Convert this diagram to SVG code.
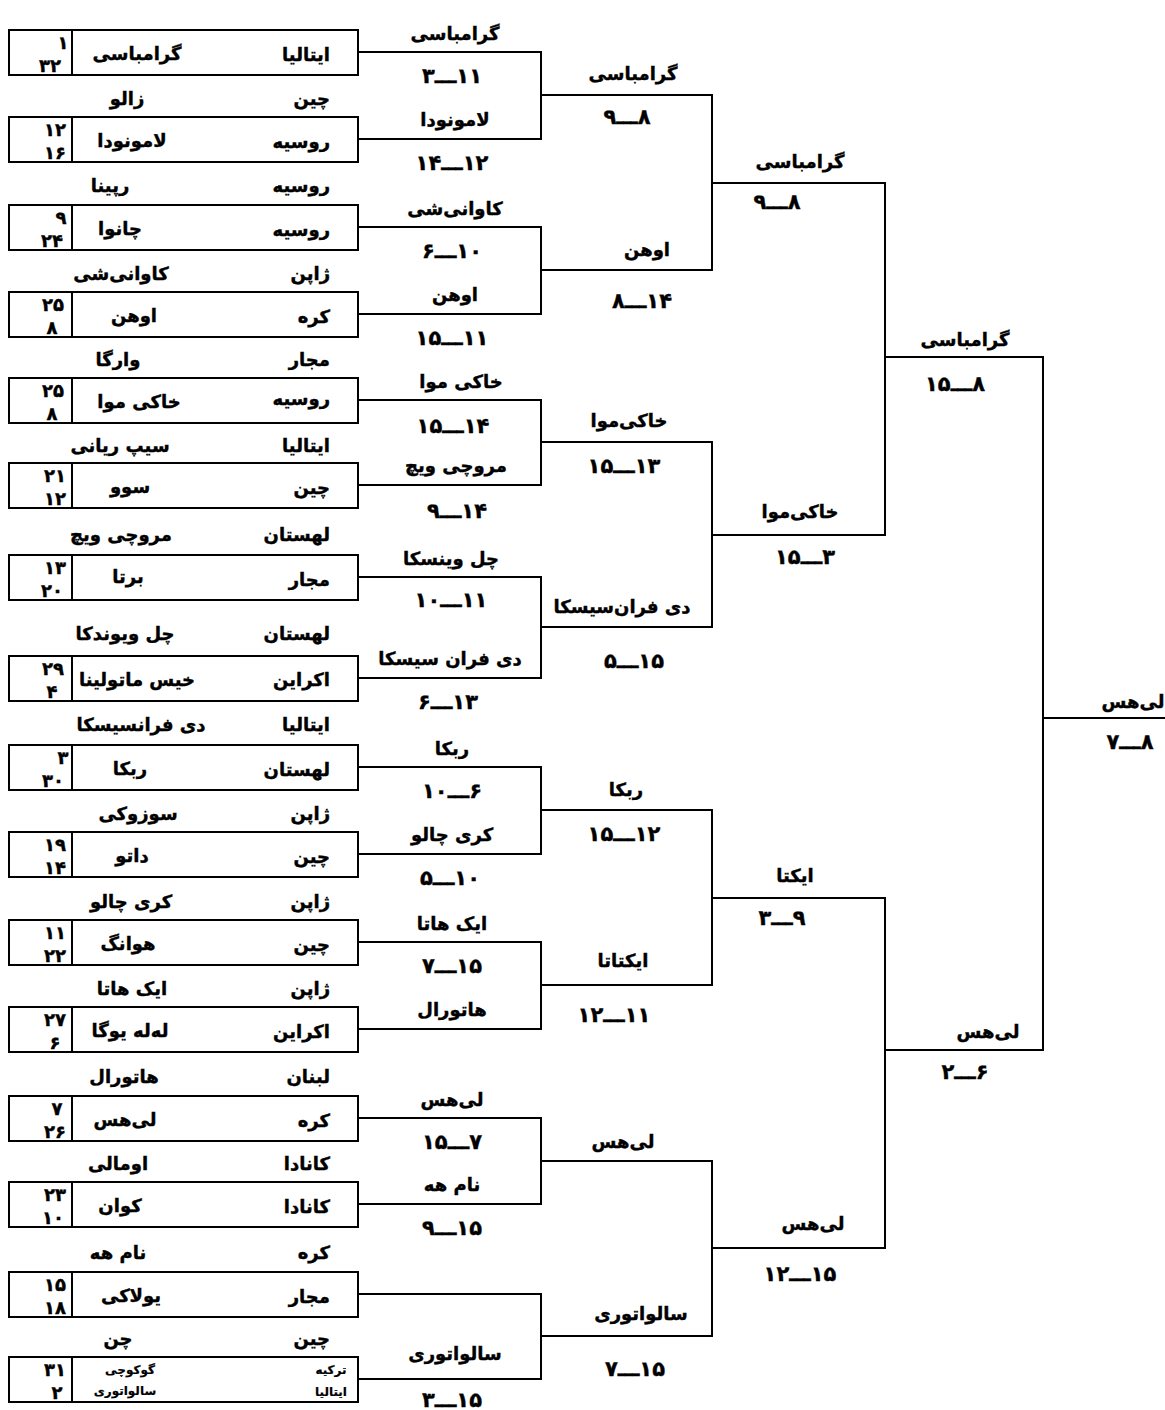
<svg xmlns="http://www.w3.org/2000/svg" width="1165" height="1410" viewBox="0 0 1165 1410">
<style>
text{font-family:"DejaVu Sans","Noto Sans",sans-serif;font-weight:bold;font-size:18px;fill:#000;stroke:#000;stroke-width:0.4;text-anchor:middle}
.r{text-anchor:end}
.n{font-size:18px}
.sm{font-size:12px;stroke-width:0.2}
.sc{font-size:21px;direction:ltr;unicode-bidi:bidi-override}
.bx{fill:#fff;stroke:#000;stroke-width:2}
.dv{stroke:#000;stroke-width:2}
.ln{fill:none;stroke:#000;stroke-width:2}
</style>
<rect width="1165" height="1410" fill="#fff"/>
<g id="connectors">
<path class="ln" d="M358,52H541V139H358"/>
<path class="ln" d="M358,227H541V314H358"/>
<path class="ln" d="M358,400H541V485H358"/>
<path class="ln" d="M358,577H541V678H358"/>
<path class="ln" d="M358,767H541V854H358"/>
<path class="ln" d="M358,942H541V1029H358"/>
<path class="ln" d="M358,1118H541V1204H358"/>
<path class="ln" d="M358,1294H541V1379H358"/>
<path class="ln" d="M541,95H712V270H541"/>
<path class="ln" d="M541,442H712V627H541"/>
<path class="ln" d="M541,810H712V985H541"/>
<path class="ln" d="M541,1161H712V1336H541"/>
<path class="ln" d="M712,183H885V535H712"/>
<path class="ln" d="M712,898H885V1248H712"/>
<path class="ln" d="M885,357H1043V1050H885"/>
<path class="ln" d="M1043,718H1165"/>
</g>
<g id="box1"><rect class="bx" x="9" y="30" width="349" height="45"/><line class="dv" x1="72" y1="30" x2="72" y2="75"/><text class="n" x="63" y="49">۱</text><text class="n" x="50" y="72">۳۲</text><text x="137" y="60">گرامباسی</text><text class="r" x="330" y="61">ایتالیا</text></g>
<g id="box2"><rect class="bx" x="9" y="117" width="349" height="45"/><line class="dv" x1="72" y1="117" x2="72" y2="162"/><text class="n" x="55" y="136">۱۲</text><text class="n" x="55" y="159">۱۶</text><text x="132" y="147">لامونودا</text><text class="r" x="330" y="148">روسیه</text></g>
<g id="box3"><rect class="bx" x="9" y="205" width="349" height="45"/><line class="dv" x1="72" y1="205" x2="72" y2="250"/><text class="n" x="61" y="224">۹</text><text class="n" x="52" y="247">۲۴</text><text x="120" y="235">چانوا</text><text class="r" x="330" y="236">روسیه</text></g>
<g id="box4"><rect class="bx" x="9" y="292" width="349" height="45"/><line class="dv" x1="72" y1="292" x2="72" y2="337"/><text class="n" x="53" y="311">۲۵</text><text class="n" x="52" y="334">۸</text><text x="134" y="322">اوهن</text><text class="r" x="330" y="323">کره</text></g>
<g id="box5"><rect class="bx" x="9" y="378" width="349" height="45"/><line class="dv" x1="72" y1="378" x2="72" y2="423"/><text class="n" x="53" y="397">۲۵</text><text class="n" x="52" y="420">۸</text><text x="139" y="408">خاکی موا</text><text class="r" x="330" y="405">روسیه</text></g>
<g id="box6"><rect class="bx" x="9" y="463" width="349" height="45"/><line class="dv" x1="72" y1="463" x2="72" y2="508"/><text class="n" x="55" y="482">۲۱</text><text class="n" x="55" y="505">۱۲</text><text x="130" y="493">سوو</text><text class="r" x="330" y="494">چین</text></g>
<g id="box7"><rect class="bx" x="9" y="555" width="349" height="45"/><line class="dv" x1="72" y1="555" x2="72" y2="600"/><text class="n" x="55" y="574">۱۳</text><text class="n" x="52" y="597">۲۰</text><text x="128" y="583">برتا</text><text class="r" x="330" y="586">مجار</text></g>
<g id="box8"><rect class="bx" x="9" y="656" width="349" height="45"/><line class="dv" x1="72" y1="656" x2="72" y2="701"/><text class="n" x="53" y="675">۲۹</text><text class="n" x="52" y="698">۴</text><text x="137" y="686">خیس ماتولینا</text><text class="r" x="330" y="686">اکراین</text></g>
<g id="box9"><rect class="bx" x="9" y="745" width="349" height="45"/><line class="dv" x1="72" y1="745" x2="72" y2="790"/><text class="n" x="63" y="764">۳</text><text class="n" x="53" y="787">۳۰</text><text x="130" y="775">ربکا</text><text class="r" x="330" y="776">لهستان</text></g>
<g id="box10"><rect class="bx" x="9" y="832" width="349" height="45"/><line class="dv" x1="72" y1="832" x2="72" y2="877"/><text class="n" x="55" y="851">۱۹</text><text class="n" x="55" y="874">۱۴</text><text x="132" y="862">داتو</text><text class="r" x="330" y="863">چین</text></g>
<g id="box11"><rect class="bx" x="9" y="920" width="349" height="45"/><line class="dv" x1="72" y1="920" x2="72" y2="965"/><text class="n" x="55" y="939">۱۱</text><text class="n" x="55" y="962">۲۲</text><text x="128" y="950">هوانگ</text><text class="r" x="330" y="951">چین</text></g>
<g id="box12"><rect class="bx" x="9" y="1007" width="349" height="45"/><line class="dv" x1="72" y1="1007" x2="72" y2="1052"/><text class="n" x="55" y="1026">۲۷</text><text class="n" x="55" y="1049">۶</text><text x="130" y="1037">له‌له یوگا</text><text class="r" x="330" y="1038">اکراین</text></g>
<g id="box13"><rect class="bx" x="9" y="1096" width="349" height="45"/><line class="dv" x1="72" y1="1096" x2="72" y2="1141"/><text class="n" x="57" y="1115">۷</text><text class="n" x="55" y="1138">۲۶</text><text x="125" y="1126">لی‌هس</text><text class="r" x="330" y="1127">کره</text></g>
<g id="box14"><rect class="bx" x="9" y="1182" width="349" height="45"/><line class="dv" x1="72" y1="1182" x2="72" y2="1227"/><text class="n" x="55" y="1201">۲۳</text><text class="n" x="53" y="1224">۱۰</text><text x="120" y="1212">کوان</text><text class="r" x="330" y="1213">کانادا</text></g>
<g id="box15"><rect class="bx" x="9" y="1272" width="349" height="45"/><line class="dv" x1="72" y1="1272" x2="72" y2="1317"/><text class="n" x="55" y="1291">۱۵</text><text class="n" x="55" y="1314">۱۸</text><text x="131" y="1302">یولاکی</text><text class="r" x="330" y="1303">مجار</text></g>
<g id="box16"><rect class="bx" x="9" y="1357" width="349" height="45"/><line class="dv" x1="72" y1="1357" x2="72" y2="1402"/><text class="n" x="55" y="1376">۳۱</text><text class="n" x="57" y="1399">۲</text><text class="sm" x="130" y="1374">گوکوچی</text><text class="sm" x="125" y="1395">سالواتوری</text><text class="sm" x="331" y="1374">ترکیه</text><text class="sm" x="331" y="1396">ایتالیا</text></g>
<g id="rows">
<text class="r" x="330" y="105">چین</text><text x="127" y="105">زالو</text>
<text class="r" x="330" y="192">روسیه</text><text x="110" y="192">رپینا</text>
<text class="r" x="330" y="280">ژاپن</text><text x="121" y="280">کاوانی‌شی</text>
<text class="r" x="330" y="366">مجار</text><text x="118" y="366">وارگا</text>
<text class="r" x="330" y="452">ایتالیا</text><text x="120" y="452">سیپ ریانی</text>
<text class="r" x="330" y="541">لهستان</text><text x="121" y="541">مروچی ویچ</text>
<text class="r" x="330" y="640">لهستان</text><text x="125" y="640">چل ویوندکا</text>
<text class="r" x="330" y="731">ایتالیا</text><text x="141" y="731">دی فرانسیسکا</text>
<text class="r" x="330" y="820">ژاپن</text><text x="138" y="820">سوزوکی</text>
<text class="r" x="330" y="908">ژاپن</text><text x="131" y="908">کری چالو</text>
<text class="r" x="330" y="995">ژاپن</text><text x="132" y="995">ایک هاتا</text>
<text class="r" x="330" y="1083">لبنان</text><text x="124" y="1083">هاتورال</text>
<text class="r" x="330" y="1170">کانادا</text><text x="118" y="1170">اومالی</text>
<text class="r" x="330" y="1259">کره</text><text x="118" y="1259">نام هه</text>
<text class="r" x="330" y="1345">چین</text><text x="118" y="1345">چن</text>
</g>
<g id="round1">
<text x="455" y="40">گرامباسی</text><text class="sc" x="452" y="83">۳ـــ۱۱</text><text x="455" y="126">لامونودا</text><text class="sc" x="452" y="170">۱۴ـــ۱۲</text>
<text x="455" y="215">کاوانی‌شی</text><text class="sc" x="452" y="258">۶ـــ۱۰</text><text x="455" y="301">اوهن</text><text class="sc" x="452" y="345">۱۵ـــ۱۱</text>
<text x="461" y="388">خاکی موا</text><text class="sc" x="453" y="433">۱۵ـــ۱۴</text><text x="456" y="472">مروچی ویچ</text><text class="sc" x="457" y="518">۹ـــ۱۴</text>
<text x="451" y="565">چل وینسکا</text><text class="sc" x="451" y="607">۱۰ـــ۱۱</text><text x="450" y="665">دی فران سیسکا</text><text class="sc" x="448" y="709">۶ـــ۱۳</text>
<text x="452" y="755">ربکا</text><text class="sc" x="452" y="798">۱۰ـــ۶</text><text x="452" y="841">کری چالو</text><text class="sc" x="450" y="885">۵ـــ۱۰</text>
<text x="452" y="930">ایک هاتا</text><text class="sc" x="452" y="973">۷ـــ۱۵</text><text x="452" y="1016">هاتورال</text>
<text x="452" y="1106">لی‌هس</text><text class="sc" x="452" y="1149">۱۵ـــ۷</text><text x="452" y="1191">نام هه</text><text class="sc" x="452" y="1235">۹ـــ۱۵</text>
<text x="455" y="1360">سالواتوری</text><text class="sc" x="452" y="1407">۳ـــ۱۵</text>
</g>
<g id="round2">
<text x="633" y="80">گرامباسی</text><text class="sc" x="627" y="124">۹ـــ۸</text><text x="647" y="256">اوهن</text><text class="sc" x="642" y="308">۸ـــ۱۴</text>
<text x="629" y="427">خاکی‌موا</text><text class="sc" x="624" y="473">۱۵ـــ۱۳</text><text x="622" y="613">دی فران‌سیسکا</text><text class="sc" x="634" y="668">۵ـــ۱۵</text>
<text x="626" y="796">ربکا</text><text class="sc" x="624" y="841">۱۵ـــ۱۲</text><text x="623" y="967">ایکتاتا</text><text class="sc" x="614" y="1022">۱۲ـــ۱۱</text>
<text x="623" y="1148">لی‌هس</text><text x="641" y="1320">سالواتوری</text><text class="sc" x="635" y="1376">۷ـــ۱۵</text>
</g>
<g id="round3">
<text x="800" y="168">گرامباسی</text><text class="sc" x="777" y="209">۹ـــ۸</text>
<text x="800" y="518">خاکی‌موا</text><text class="sc" x="805" y="564">۱۵ـــ۳</text>
<text x="795" y="882">ایکتا</text><text class="sc" x="782" y="925">۳ـــ۹</text>
<text x="813" y="1230">لی‌هس</text><text class="sc" x="800" y="1281">۱۲ـــ۱۵</text>
</g>
<g id="round4">
<text x="965" y="346">گرامباسی</text><text class="sc" x="955" y="391">۱۵ـــ۸</text>
<text x="988" y="1038">لی‌هس</text><text class="sc" x="965" y="1079">۲ـــ۶</text>
</g>
<g id="final">
<text x="1133" y="708">لی‌هس</text><text class="sc" x="1130" y="749">۷ـــ۸</text>
</g>
</svg>
